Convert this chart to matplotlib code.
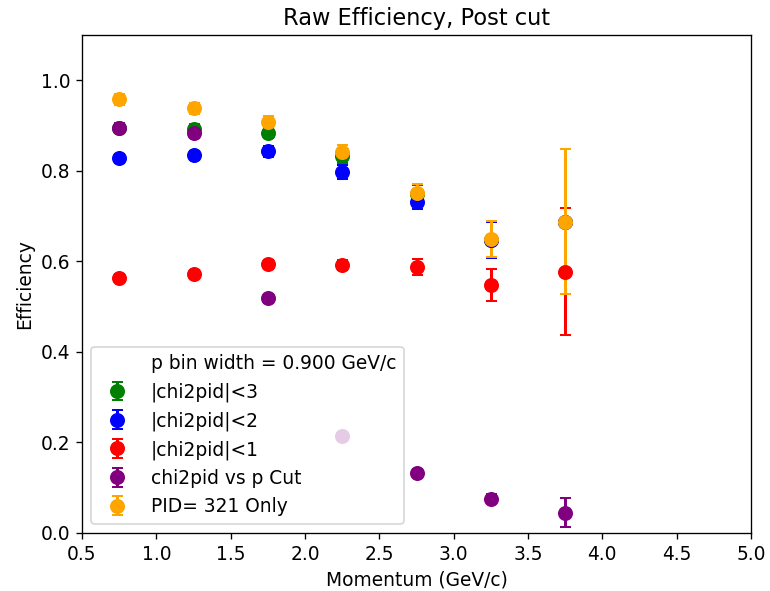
import matplotlib
matplotlib.use("Agg")
import matplotlib.pyplot as plt
import numpy as np

p = [0.75, 1.25, 1.75, 2.25, 2.75, 3.25, 3.75]

eff_chi3 = [0.895, 0.893, 0.884, 0.833, 0.748, 0.648, 0.688]
err_chi3 = [0.010, 0.010, 0.012, 0.015, 0.020, 0.040, 0.160]

eff_chi2 = [0.828, 0.834, 0.843, 0.797, 0.731, 0.648, 0.688]
err_chi2 = [0.010, 0.010, 0.012, 0.015, 0.015, 0.040, 0.160]

eff_chi1 = [0.563, 0.573, 0.594, 0.592, 0.588, 0.548, 0.577]
err_chi1 = [0.008, 0.009, 0.010, 0.012, 0.018, 0.035, 0.140]

eff_cut = [0.895, 0.883, 0.519, 0.214, 0.133, 0.076, 0.045]
err_cut = [0.010, 0.010, 0.010, 0.008, 0.008, 0.010, 0.032]

eff_pid = [0.958, 0.938, 0.907, 0.841, 0.750, 0.649, 0.688]
err_pid = [0.012, 0.012, 0.015, 0.015, 0.020, 0.040, 0.160]

bin_label = "p bin width = 0.900 GeV/c"
labels = ["|chi2pid|<3", "|chi2pid|<2", "|chi2pid|<1", "chi2pid vs p Cut", "PID= 321 Only"]
colors = ["green", "blue", "red", "purple", "orange"]

plt.rcParams['font.size'] = 11.2
plt.rcParams['axes.titlesize'] = 13.5

fig = plt.figure(figsize=(770/120, 591/120), dpi=120)
ax = fig.add_axes([82/770, 1-533/591, (751-82)/770, (533-35)/591])

ax.plot([], [], ' ', label=bin_label)
series = [(eff_chi3, err_chi3), (eff_chi2, err_chi2), (eff_chi1, err_chi1),
          (eff_cut, err_cut), (eff_pid, err_pid)]
for (y, e), lab, c in zip(series, labels, colors):
    ax.errorbar(p, y, yerr=e, fmt='o', color=c, markersize=8, capsize=3.3,
                elinewidth=1.8, capthick=1.2, label=lab)

ax.set_xlim(0.5, 5.0)
ax.set_ylim(0, 1.1)
ax.set_xticks(np.arange(0.5, 5.01, 0.5))
ax.set_yticks(np.arange(0, 1.01, 0.2))
ax.set_xlabel("Momentum (GeV/c)")
ax.set_ylabel("Efficiency")
ax.set_title("Raw Efficiency, Post cut")
ax.legend(loc="lower left")

fig.savefig("out.png", dpi=120)
